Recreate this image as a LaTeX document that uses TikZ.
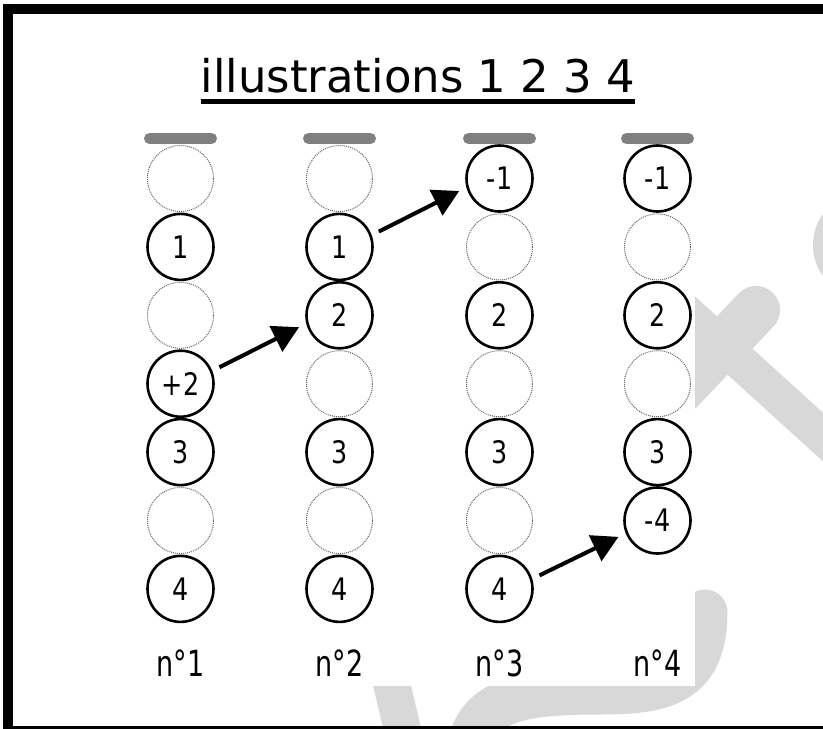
\documentclass[tikz,border=0pt]{standalone}
\usepackage{fontspec}
\setmainfont{DejaVu Sans}
\newfontfamily\titlefont{DejaVu Sans}
\newfontfamily\ballfont[FakeStretch=0.82]{DejaVu Sans}
\newfontfamily\labfont[FakeStretch=0.75]{DejaVu Sans}
\usetikzlibrary{arrows.meta}
\definecolor{wmgray}{RGB}{216,216,216}
\definecolor{bargray}{RGB}{128,128,128}
\definecolor{dotgray}{RGB}{100,100,100}
\tikzset{
  full/.style={circle, draw=black, line width=2.6pt, minimum size=66pt, inner sep=0pt,
               font=\ballfont\fontsize{31}{33}\selectfont},
  hollow/.style={circle, draw=dotgray, densely dotted, line width=1pt, minimum size=66pt, inner sep=0pt},
  lidbar/.style={draw=bargray, line width=11pt, line cap=round},
  push/.style={line width=4pt, -{Triangle[length=26pt,width=28pt]}, shorten <=8pt, shorten >=8pt},
  numlabel/.style={anchor=base, inner sep=0pt, font=\labfont\fontsize{36}{40}\selectfont},
  wm/.style={draw=wmgray, line cap=round},
}
\begin{document}
\begin{tikzpicture}[x=1pt, y=-1pt]
\useasboundingbox (0,0) rectangle (823,729);
\fill[white] (0,0) rectangle (823,729);

% light background emblem
\fill[wmgray] (850,245) ellipse [x radius=37pt, y radius=45pt];
\draw[wm, line width=48pt] (680,390) -- (756,310);
\draw[wm, line width=36pt, line cap=butt] (660,289) -- (900,507);
\draw[wm, line width=45pt] (705,612) .. controls (705,685) and (660,692) .. (600,692)
      .. controls (520,692) and (480,700) .. (470,745);
\draw[wm, line width=37pt, line cap=butt] (386,660) -- (406,745);
\fill[white] (13,13) rectangle (695,686);

% title
\node[anchor=base, inner sep=0pt, font=\titlefont\fontsize{45}{52}\selectfont] (title) at (418,92)
  {illustrations 1 2 3 4};
\draw[line width=5pt] ([yshift=-9pt]title.base west) -- ([yshift=-9pt]title.base east);

% columns of places: 0 = empty, otherwise the printed value
\foreach \col/\x/\items in {1/180.5/{0,1,0,+2,3,0,4},
                            2/339.5/{0,1,2,0,3,0,4},
                            3/499.5/{-1,0,2,0,3,0,4},
                            4/657.5/{-1,0,2,0,3,-4}} {
  \draw[lidbar] (\x-31,138.5) -- (\x+31,138.5);
  \foreach \v [count=\r] in \items {
    \pgfmathsetmacro{\yy}{178.5+(\r-1)*68.4}
    \if0\v
      \node[hollow] (c\col r\r) at (\x,\yy) {};
    \else
      \node[full] (c\col r\r) at (\x,\yy) {\v};
    \fi
  }
  \node[numlabel] (lab\col) at (\x,676) {n°\col};
}

% moves between illustrations
\draw[push] (c1r4.22) -- (c2r3.194);
\draw[push] (c2r2.20) -- (c3r1.195);
\draw[push] (c3r7.17) -- (c4r6.202);

% frame
\draw[line width=10pt] (8,8.5) rectangle (832,731);
\end{tikzpicture}
\end{document}
